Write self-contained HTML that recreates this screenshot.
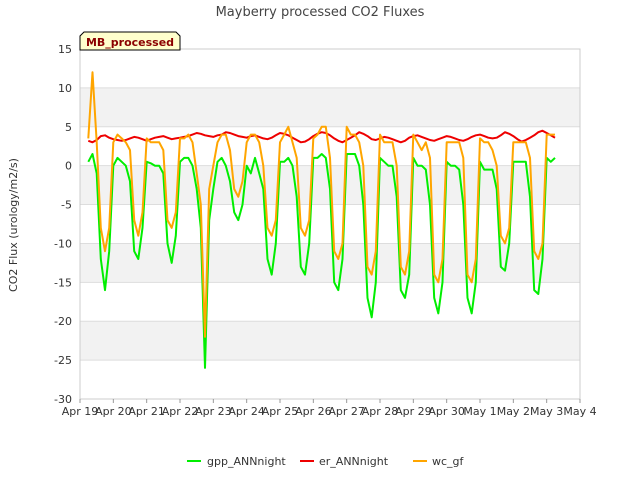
<!DOCTYPE html>
<html><head><meta charset="utf-8"><style>
body{margin:0;background:#fff;font-family:"Liberation Sans","DejaVu Sans",sans-serif;}
svg text{font-family:"DejaVu Sans","Liberation Sans",sans-serif;}
</style></head><body>
<svg id="chart" width="640" height="480" xmlns="http://www.w3.org/2000/svg">
<text x="320" y="16" text-anchor="middle" font-size="13" fill="#444">Mayberry processed CO2 Fluxes</text>
<g id="plot"></g>
<text transform="translate(17,225) rotate(-90)" text-anchor="middle" font-size="11" fill="#333">CO2 Flux (urology/m2/s)</text>
<g>
<path d="M80,50 L80,36 L84,32 L176,32 L180,36 L180,50 Z" fill="#ffffcc" stroke="#000" stroke-width="1"/>
<text x="130" y="46" text-anchor="middle" font-size="11" font-weight="bold" fill="#8b0000">MB_processed</text>
</g>
<g>
<g><line x1="187" y1="461" x2="201" y2="461" stroke="#00ee00" stroke-width="2"/><text x="207" y="465" font-size="11" fill="#333">gpp_ANNnight</text></g>
<g><line x1="300" y1="461" x2="314" y2="461" stroke="#ee0000" stroke-width="2"/><text x="319" y="465" font-size="11" fill="#333">er_ANNnight</text></g>
<g><line x1="413" y1="461" x2="427" y2="461" stroke="#ffa500" stroke-width="2"/><text x="432" y="465" font-size="11" fill="#333">wc_gf</text></g>
</g>
</svg>
<script>
const xTickLabels=["Apr 19","Apr 20","Apr 21","Apr 22","Apr 23","Apr 24","Apr 25","Apr 26","Apr 27","Apr 28","Apr 29","Apr 30","May 1","May 2","May 3","May 4"];
const yTicks=[15,10,5,0,-5,-10,-15,-20,-25,-30];
const startDay=0.25, stepDay=0.125;
const gpp=[0.5,1.5,-1,-12,-16,-11,0,1,
0.5,0,-2,-11,-12,-8,0.5,0.3,
0,0,-1,-10,-12.5,-9,0.5,1,
1,0,-3,-8,-26,-7,-3,0.5,
1,0,-2,-6,-7,-5,0,-1,
1,-1,-3,-12,-14,-10,0.5,0.5,
1,0,-4,-13,-14,-10,1,1,
1.5,1,-3,-15,-16,-12,1.5,1.5,
1.5,0,-5,-17,-19.5,-15,1,0.5,
0,0,-4,-16,-17,-14,1,0,
0,-0.5,-5,-17,-19,-15,0.5,0,
0,-0.5,-5,-17,-19,-15,0.5,-0.5,
-0.5,-0.5,-3,-13,-13.5,-10,0.5,0.5,
0.5,0.5,-4,-16,-16.5,-12,1,0.5,1];
const er=[3.2,3.0,3.3,3.8,3.9,3.6,3.4,3.3,
3.2,3.3,3.5,3.7,3.6,3.4,3.2,3.4,
3.6,3.7,3.8,3.6,3.4,3.5,3.6,3.7,
3.8,4.0,4.2,4.1,3.9,3.8,3.7,3.9,
4.0,4.3,4.2,4.0,3.8,3.7,3.6,3.8,
3.9,3.7,3.5,3.4,3.6,3.9,4.2,4.1,
3.9,3.6,3.3,3.0,3.1,3.4,3.8,4.1,
4.3,4.2,3.9,3.5,3.2,3.0,3.3,3.6,
3.9,4.3,4.1,3.8,3.4,3.3,3.5,3.7,
3.6,3.4,3.2,3.0,3.2,3.6,3.8,3.9,
3.7,3.5,3.3,3.2,3.4,3.6,3.8,3.7,
3.5,3.3,3.2,3.4,3.7,3.9,4.0,3.8,
3.6,3.5,3.6,3.9,4.3,4.1,3.8,3.4,
3.1,3.3,3.6,3.9,4.3,4.5,4.2,3.9,3.6];
const wc=[3.5,12,3,-8,-11,-8,3,4,
3.5,3,2,-7,-9,-6,3.5,3,
3,3,2,-7,-8,-6,3.5,3.5,
4,3,-1,-5,-22,-3,0,3,
4,4,2,-3,-4,-2,3,4,
4,3,0,-8,-9,-7,3,4,
5,3,1,-8,-9,-7,3.5,4,
5,5,1,-11,-12,-10,5,4,
4,3,0,-13,-14,-11,4,3,
3,3,0,-13,-14,-11,4,3,
2,3,1,-14,-15,-12,3,3,
3,3,1,-14,-15,-12,3.5,3,
3,2,0,-9,-10,-8,3,3,
3,3,1,-11,-12,-10,4,4,4];
const NS="http://www.w3.org/2000/svg";
const L=80,R=580,T=49,B=399;
const xS=d=>L+(d/15)*(R-L);
const yS=v=>T+(15-v)/45*(B-T);
const plot=document.getElementById('plot');
function mk(tag,attrs,parent){const e=document.createElementNS(NS,tag);for(const k in attrs)e.setAttribute(k,attrs[k]);(parent||plot).appendChild(e);return e;}
for(let i=0;i<yTicks.length-1;i++){
  const v=yTicks[i];
  if(i%2===1){const r=mk('rect',{x:L,y:yS(v),width:R-L,height:yS(yTicks[i+1])-yS(v),fill:'#f2f2f2'});
  
  }
}
yTicks.forEach(v=>{
  const g=mk('line',{x1:L,x2:R,y1:yS(v),y2:yS(v),stroke:'#dddddd','stroke-width':1});
  
  
  const t=mk('text',{x:L-8,y:yS(v)+4,'text-anchor':'end','font-size':11,fill:'#333'});
  t.textContent=v;
  
  
});
mk('rect',{x:L,y:T,width:R-L,height:B-T,fill:'none',stroke:'#cccccc'});
xTickLabels.forEach((s,i)=>{
  const x=xS(i);
  mk('line',{x1:x,x2:x,y1:B,y2:B+4,stroke:'#999'});
  const t=mk('text',{x:x,y:B+16,'text-anchor':'middle','font-size':11,fill:'#333'});
  t.textContent=s;
  
  
});
function series(arr,color,name){
  const pts=arr.map((v,i)=>xS(startDay+i*stepDay).toFixed(1)+','+yS(v).toFixed(1)).join(' ');
  const p=mk('polyline',{points:pts,fill:'none',stroke:color,'stroke-width':2,'stroke-linejoin':'round'});
  
  
}
series(gpp,'#00ee00','gpp-line');
series(er,'#ee0000','er-line');
series(wc,'#ffa500','wc-line');
</script>
</body></html>
